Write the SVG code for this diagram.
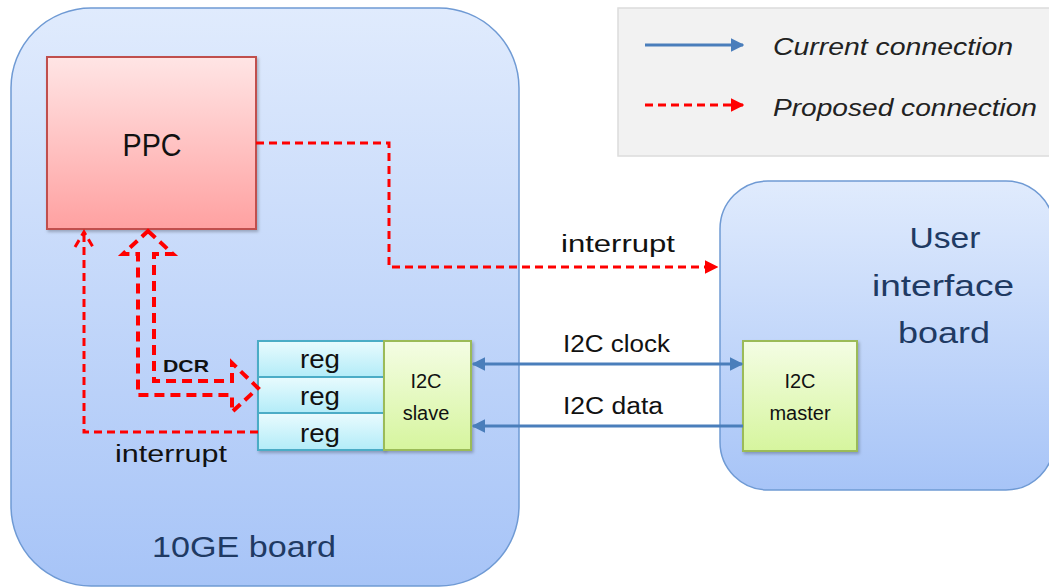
<svg xmlns="http://www.w3.org/2000/svg" width="1049" height="587" viewBox="0 0 1049 587">
  <style>
    text { font-family: "Liberation Sans", Arial, sans-serif; }
    .board { stroke: #6f9ad4; stroke-width: 1.5; }
    .title { font-size: 30px; fill: #1f3a63; text-anchor: middle; }
    .lbl { font-size: 23px; fill: #111; }
    .cell { font-size: 25px; fill: #111; text-anchor: middle; }
    .small { font-size: 20px; fill: #111; text-anchor: middle; }
    .cur { fill: none; stroke: #4a7ebb; stroke-width: 3; }
    .prop { fill: none; stroke: #ff0000; stroke-width: 3; stroke-dasharray: 8 5; }
    .block { fill: none; stroke: #ff0000; stroke-width: 4; stroke-dasharray: 10 6; stroke-linejoin: miter; }
  </style>
  <defs>
    <linearGradient id="gBoard" x1="0" y1="0" x2="0" y2="1">
      <stop offset="0" stop-color="#e0ebfd"/>
      <stop offset="1" stop-color="#a7c4f7"/>
    </linearGradient>
    <linearGradient id="gPpc" x1="0" y1="0" x2="0" y2="1">
      <stop offset="0" stop-color="#ffe5e5"/>
      <stop offset="1" stop-color="#ffa1a1"/>
    </linearGradient>
    <linearGradient id="gReg" x1="0" y1="0" x2="0" y2="1">
      <stop offset="0" stop-color="#e9fbfe"/>
      <stop offset="1" stop-color="#b3ecf8"/>
    </linearGradient>
    <linearGradient id="gGreen" x1="0" y1="0" x2="0" y2="1">
      <stop offset="0" stop-color="#f4fde4"/>
      <stop offset="1" stop-color="#d6f59e"/>
    </linearGradient>
    <filter id="shadow" x="-10%" y="-10%" width="130%" height="130%">
      <feDropShadow dx="1.5" dy="2" stdDeviation="1.5" flood-color="#000" flood-opacity="0.25"/>
    </filter>
    <marker id="arrBlue" viewBox="0 0 10 10" refX="9" refY="5" markerWidth="4.5" markerHeight="4.5" orient="auto-start-reverse">
      <path d="M0,0 L10,5 L0,10 z" fill="#4a7ebb"/>
    </marker>
    <marker id="arrRed" viewBox="0 0 10 10" refX="9" refY="5" markerWidth="4.5" markerHeight="4.5" orient="auto">
      <path d="M0,0 L10,5 L0,10 z" fill="#ff0000"/>
    </marker>
  </defs>

  <!-- 10GE board -->
  <g id="board-10ge">
    <rect class="board" x="11" y="8" width="508" height="578" rx="80" fill="url(#gBoard)"/>
    <text class="title" x="244" y="557" textLength="184" lengthAdjust="spacingAndGlyphs">10GE board</text>
  </g>

  <!-- User interface board -->
  <g id="board-ui">
    <rect class="board" x="720" y="181" width="334" height="309" rx="48" fill="url(#gBoard)"/>
    <text class="title" x="945" y="248" textLength="71" lengthAdjust="spacingAndGlyphs">User</text>
    <text class="title" x="943" y="296" textLength="142" lengthAdjust="spacingAndGlyphs">interface</text>
    <text class="title" x="944" y="343" textLength="92" lengthAdjust="spacingAndGlyphs">board</text>
  </g>

  <!-- Legend -->
  <g id="legend">
    <rect x="618" y="8" width="440" height="148" fill="#f2f2f2" stroke="#dcdcdc" stroke-width="1.5"/>
    <line class="cur" x1="645" y1="45" x2="743" y2="45" marker-end="url(#arrBlue)"/>
    <line class="prop" x1="645" y1="105" x2="743" y2="105" marker-end="url(#arrRed)"/>
    <text x="773" y="55" font-size="24" font-style="italic" fill="#222" textLength="240" lengthAdjust="spacingAndGlyphs">Current connection</text>
    <text x="773" y="116" font-size="24" font-style="italic" fill="#222" textLength="264" lengthAdjust="spacingAndGlyphs">Proposed connection</text>
  </g>

  <!-- PPC -->
  <g id="ppc">
    <rect x="47" y="57" width="209" height="172" fill="url(#gPpc)" stroke="#c0504d" stroke-width="2" filter="url(#shadow)"/>
    <text x="152" y="156" font-size="31" fill="#111" text-anchor="middle" textLength="59" lengthAdjust="spacingAndGlyphs">PPC</text>
  </g>

  <!-- Register stack -->
  <g id="regs">
    <g filter="url(#shadow)">
      <rect x="258" y="341" width="126" height="36" fill="url(#gReg)" stroke="#4bacc6" stroke-width="2"/>
      <rect x="258" y="377" width="126" height="36" fill="url(#gReg)" stroke="#4bacc6" stroke-width="2"/>
      <rect x="258" y="413" width="126" height="37" fill="url(#gReg)" stroke="#4bacc6" stroke-width="2"/>
    </g>
    <text class="cell" x="320" y="368" textLength="40" lengthAdjust="spacingAndGlyphs">reg</text>
    <text class="cell" x="320" y="405" textLength="40" lengthAdjust="spacingAndGlyphs">reg</text>
    <text class="cell" x="320" y="442" textLength="40" lengthAdjust="spacingAndGlyphs">reg</text>
  </g>

  <!-- I2C slave -->
  <g id="i2c-slave">
    <rect x="384" y="341" width="87" height="109" fill="url(#gGreen)" stroke="#9bbb59" stroke-width="2" filter="url(#shadow)"/>
    <text class="small" x="426" y="388">I2C</text>
    <text class="small" x="426" y="420">slave</text>
  </g>

  <!-- I2C master -->
  <g id="i2c-master">
    <rect x="743" y="341" width="114" height="110" fill="url(#gGreen)" stroke="#9bbb59" stroke-width="2" filter="url(#shadow)"/>
    <text class="small" x="800" y="388">I2C</text>
    <text class="small" x="800" y="420">master</text>
  </g>

  <!-- Connectors -->
  <g id="connectors">
    <!-- PPC interrupt out to the user interface board -->
    <path class="prop" d="M256,143 H389 V267 H717" marker-end="url(#arrRed)"/>
    <text class="lbl" x="561" y="252" textLength="114" lengthAdjust="spacingAndGlyphs">interrupt</text>

    <!-- register interrupt back to PPC -->
    <path class="prop" d="M258,432 H84 V233"/>
    <path class="prop" d="M75,247 L84,232 L93,247" stroke-dasharray="none"/>
    <text class="lbl" x="115" y="462" textLength="112" lengthAdjust="spacingAndGlyphs">interrupt</text>

    <!-- DCR bus (double-headed block arrow) -->
    <path class="block" d="M148,231 L173,254 L154,254 L154,381 L232,381 L232,363 L258,388 L232,412 L232,395 L138,395 L138,254 L123,254 Z"/>
    <text x="163" y="372" font-size="17" font-weight="bold" fill="#111" textLength="46" lengthAdjust="spacingAndGlyphs">DCR</text>

    <!-- I2C clock and data -->
    <line class="cur" x1="473" y1="364" x2="742" y2="364" marker-start="url(#arrBlue)" marker-end="url(#arrBlue)"/>
    <text class="lbl" x="563" y="352" textLength="107" lengthAdjust="spacingAndGlyphs">I2C clock</text>
    <line class="cur" x1="743" y1="426" x2="473" y2="426" marker-end="url(#arrBlue)"/>
    <text class="lbl" x="563" y="414" textLength="100" lengthAdjust="spacingAndGlyphs">I2C data</text>
  </g>
</svg>
